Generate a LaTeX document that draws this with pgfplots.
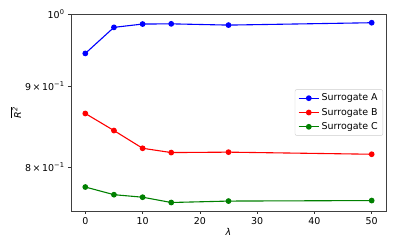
\documentclass[border=0pt]{standalone}
\usepackage{fontspec}
\setmainfont{DejaVu Sans}
\usepackage{pgfplots}
\pgfplotsset{compat=1.18}
\begin{document}
\begin{tikzpicture}[font=\fontsize{9.5}{11.4}\selectfont]
\begin{axis}[
  scale only axis, width=315bp, height=197bp,
  xmin=-2.5, xmax=52.5,
  ymode=log, ymin=0.751, ymax=1.0,
  xtick={0,10,20,30,40,50},
  ytick={0.8,0.9,1},
  yticklabels={8\kern1.5bp×\kern1.5bp10\textsuperscript{−1},9\kern1.5bp×\kern1.5bp10\textsuperscript{−1},10\textsuperscript{0}},
  minor ytick={},
  /pgf/number format/assume math mode=true,
  xticklabel={\pgfmathprintnumber{\tick}},
  xtick pos=bottom, ytick pos=left,
  tick align=outside, major tick length=3bp,
  tick style={black!80, line width=0.6bp},
  axis line style={black!75, line width=0.6bp},
  xlabel={\itshape λ},
  ylabel={$\overline{\mbox{\itshape R\textsuperscript{2}}}$},
  xlabel style={at={(axis description cs:0.5,-0.107)}, anchor=center},
  ylabel style={at={(axis description cs:-0.175,0.5)}, anchor=center},
  legend style={at={(1,0.5)}, anchor=east, xshift=-3bp, draw=black!20, rounded corners=2bp, fill=white, font=\fontsize{9.5}{11.4}\selectfont, row sep=1.8bp, inner xsep=3bp, inner ysep=2.5bp},
  legend cell align=left,
  legend image code/.code={\draw[mark repeat=2,mark phase=2,#1] plot coordinates {(0bp,0bp) (10.3bp,0bp) (20.6bp,0bp)};},
  every axis plot/.append style={line width=1.1bp, mark=*, mark size=2.3bp},
]
\addplot[color=blue, mark options={fill=blue}] coordinates {(0,0.9443) (5,0.9808) (10,0.9855) (15,0.9858) (25,0.984) (50,0.9874)};
\addlegendentry{Surrogate A}
\addplot[color=red, mark options={fill=red}] coordinates {(0,0.8653) (5,0.8441) (10,0.8226) (15,0.8175) (25,0.818) (50,0.8155)};
\addlegendentry{Surrogate B}
\addplot[color=green!50!black, mark options={fill=green!50!black}] coordinates {(0,0.7776) (5,0.769) (10,0.7662) (15,0.7603) (25,0.7619) (50,0.7625)};
\addlegendentry{Surrogate C}
\end{axis}
\pgfresetboundingbox
\path ([shift={(-71bp,-37bp)}]current axis.south west) rectangle ([shift={(11bp,14bp)}]current axis.north east);
\end{tikzpicture}
\end{document}
